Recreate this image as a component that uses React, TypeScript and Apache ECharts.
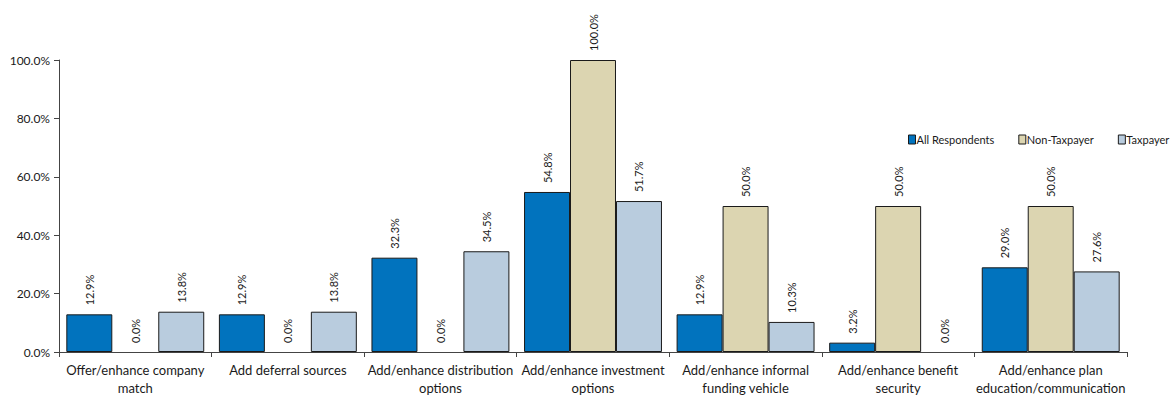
import React, { useEffect, useRef } from "react";
import * as echarts from "echarts";

// Survey results: planned changes by respondent group
const categories = [
  "Offer/enhance company\nmatch",
  "Add deferral sources",
  "Add/enhance distribution\noptions",
  "Add/enhance investment\noptions",
  "Add/enhance informal\nfunding vehicle",
  "Add/enhance benefit\nsecurity",
  "Add/enhance plan\neducation/communication",
];
const allRespondents = [12.9, 12.9, 32.3, 54.8, 12.9, 3.2, 29.0];
const nonTaxpayer = [0.0, 0.0, 0.0, 100.0, 50.0, 50.0, 50.0];
const taxpayer = [13.8, 13.8, 34.5, 51.7, 10.3, 0.0, 27.6];
const seriesNames = ["All Respondents", "Non-Taxpayer", "Taxpayer"];
const seriesColors = ["#0173BE", "#DCD5B1", "#B9CCDE"];

const FONT = "Lato, 'Liberation Sans', sans-serif";

export default function App() {
  const ref = useRef<HTMLDivElement>(null);

  useEffect(() => {
    if (!ref.current) return;
    const chart = echarts.init(ref.current, undefined, { renderer: "svg" });
    const pct = (v: number) => `${v.toFixed(1)}%`;
    const dataSets = [allRespondents, nonTaxpayer, taxpayer];

    chart.setOption({
      animation: false,
      textStyle: { fontFamily: FONT },
      legend: {
        data: seriesNames,
        left: 908,
        top: 134,
        width: 280,
        padding: 0,
        itemWidth: 7,
        itemHeight: 9,
        itemGap: 24,
        icon: "rect",
        textStyle: { fontSize: 11, color: "#1a1a1a", fontFamily: FONT, padding: [0, 0, 0, -4] },
        itemStyle: { borderColor: "#1a1a1a", borderWidth: 1 },
      },
      grid: { left: 59, right: 47, top: 60, bottom: 44, containLabel: false },
      xAxis: {
        type: "category",
        data: categories,
        axisLine: { lineStyle: { color: "#444", width: 1 } },
        axisTick: { show: true, length: 5, lineStyle: { color: "#444" } },
        axisLabel: {
          interval: 0,
          fontSize: 13,
          color: "#1a1a1a",
          lineHeight: 18,
          margin: 9,
          fontFamily: FONT,
        },
      },
      yAxis: {
        type: "value",
        min: 0,
        max: 100,
        interval: 20,
        splitLine: { show: false },
        axisLine: { show: true, lineStyle: { color: "#444", width: 1 } },
        axisTick: { show: true, length: 5, lineStyle: { color: "#444" } },
        axisLabel: {
          fontSize: 12,
          color: "#1a1a1a",
          margin: 9,
          fontFamily: FONT,
          formatter: (v: number) => pct(v),
        },
      },
      series: seriesNames.map((name, i) => ({
        name,
        type: "bar",
        // zero-height bars get no outline
        data: dataSets[i].map((v) =>
          v === 0 ? { value: v, itemStyle: { borderWidth: 0 } } : v
        ),
        barGap: "0%",
        barCategoryGap: "9.6%",
        itemStyle: { color: seriesColors[i], borderColor: "#1a1a1a", borderWidth: 1 },
        label: {
          show: true,
          position: "top",
          rotate: 90,
          align: "left",
          verticalAlign: "middle",
          distance: 9,
          fontSize: 11,
          color: "#1a1a1a",
          fontFamily: FONT,
          formatter: (p: any) => pct(p.value),
        },
      })),
    });

    return () => chart.dispose();
  }, []);

  return (
    <div
      ref={ref}
      style={{ position: "fixed", left: 0, top: 0, width: 1174, height: 397, background: "#fff" }}
    />
  );
}
